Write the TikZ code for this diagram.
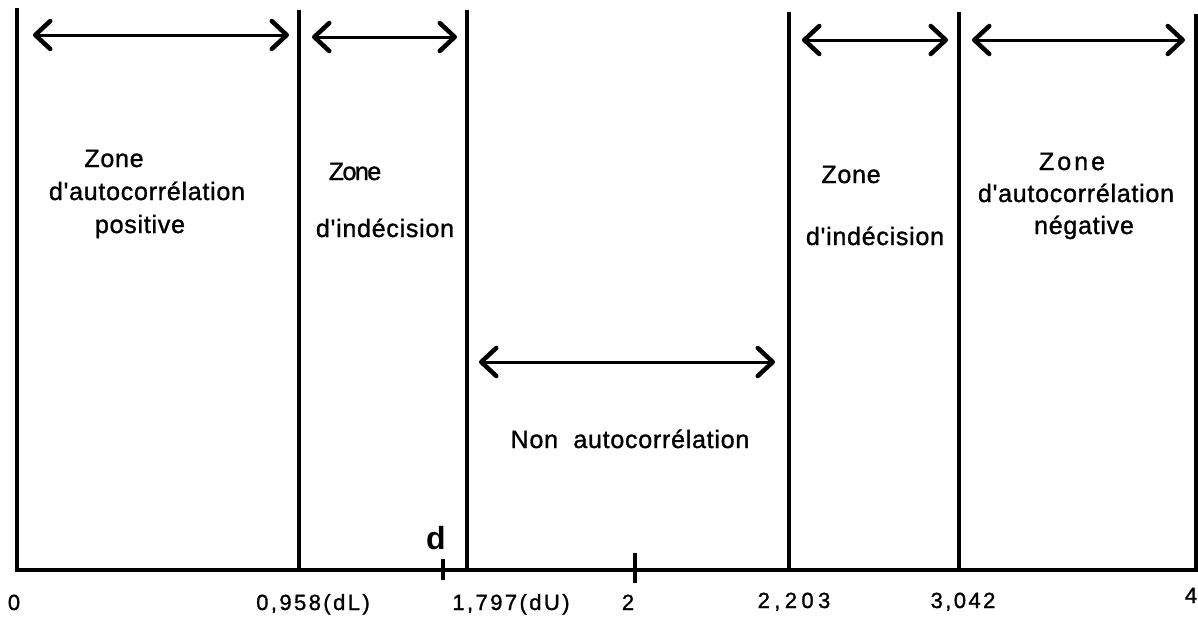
\documentclass[tikz,border=0pt]{standalone}
\usepackage{fontspec}
\setmainfont{Liberation Sans}[Ligatures=TeXOff]
\usetikzlibrary{arrows.meta}
\begin{document}
\begin{tikzpicture}[x=1pt,y=-1pt,
  rule/.style={line width=3.2pt},
  barb/.tip={Straight Barb[length=15pt,width=28pt,line width=4.5pt,round]},
  span/.style={line width=3pt,{barb}-{barb}},
  tickmark/.style={line width=3.5pt},
  zonetext/.style={anchor=base,inner sep=0pt,
    font=\fontsize{25}{30}\selectfont\addfontfeature{LetterSpace=3,FakeBold=1.2}},
  valtext/.style={anchor=base,inner sep=0pt,
    font=\fontsize{22}{25}\selectfont\addfontfeature{LetterSpace=11,FakeBold=1.2}}]
\useasboundingbox (0,0) rectangle (1198,621);

% boundaries of the zones
\coordinate (t0) at (17,8);    \coordinate (b0) at (17,570);
\coordinate (t1) at (299,10);  \coordinate (b1) at (299,570);
\coordinate (t2) at (467,10);  \coordinate (b2) at (467,570);
\coordinate (t3) at (789,12);  \coordinate (b3) at (789,570);
\coordinate (t4) at (959,12);  \coordinate (b4) at (959,570);
\coordinate (t5) at (1196,14); \coordinate (b5) at (1196,570);
\foreach \i in {0,...,5} \draw[rule] (t\i) -- (b\i);

% horizontal axis
\draw[rule] (15.4,570) -- (1197.6,570);

% ticks for d and 2
\coordinate (dtop) at (443,559); \coordinate (dbot) at (443,580);
\coordinate (ttop) at (635,553); \coordinate (tbot) at (635,583);
\draw[tickmark] (dtop) -- (dbot);
\draw[tickmark] (ttop) -- (tbot);
\node[anchor=base,inner sep=0pt,font=\fontsize{32}{34}\selectfont\bfseries] (dlab) at (436,549) {d};

% double-headed arrows spanning each zone
\coordinate (a1l) at (33,35);   \coordinate (a1r) at (289,35);
\coordinate (a2l) at (312,37);  \coordinate (a2r) at (457,37);
\coordinate (a3l) at (802,40);  \coordinate (a3r) at (948,40);
\coordinate (a4l) at (972,40);  \coordinate (a4r) at (1185,40);
\coordinate (a5l) at (479,362); \coordinate (a5r) at (775,362);
\foreach \i in {1,...,5} \draw[span] (a\i l) -- (a\i r);

% zone labels
\node[zonetext] (z1a) at (114,167) {Zone};
\node[zonetext] (z1b) at (147,200) {d'autocorrélation};
\node[zonetext] (z1c) at (140,233) {positive};

\node[zonetext,font=\fontsize{25}{30}\selectfont\addfontfeature{LetterSpace=-6,FakeBold=1.2}] (z2a) at (355,180) {Zone};
\node[zonetext] (z2b) at (385,237) {d'indécision};

\node[zonetext] (z3a) at (851,183) {Zone};
\node[zonetext] (z3b) at (875,245) {d'indécision};

\node[zonetext,font=\fontsize{25}{30}\selectfont\addfontfeature{LetterSpace=12,FakeBold=1.2}] (z4a) at (1072,170) {Zone};
\node[zonetext] (z4b) at (1076,202) {d'autocorrélation};
\node[zonetext] (z4c) at (1084,234) {négative};

\node[zonetext] (z5) at (630,448) {Non\ \ autocorrélation};

% values on the axis
\node[valtext] (v0) at (14,610) {0};
\node[valtext] (v1) at (313,610) {0,958(dL)};
\node[valtext] (v2) at (511,610) {1,797(dU)};
\node[valtext] (v3) at (628,610) {2};
\node[valtext,font=\fontsize{22}{25}\selectfont\addfontfeature{LetterSpace=20,FakeBold=1.2}] (v4) at (794,608) {2,203};
\node[valtext] (v5) at (963,608) {3,042};
\node[valtext] (v6) at (1191,603) {4};
\end{tikzpicture}
\end{document}
